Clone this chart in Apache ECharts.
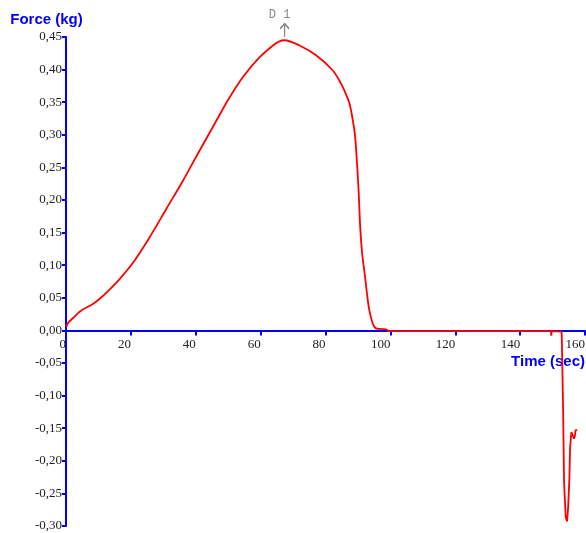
<!DOCTYPE html>
<html>
<head>
<meta charset="utf-8">
<script src="https://cdn.jsdelivr.net/npm/echarts@6/dist/echarts.min.js"></script>
<style>
  html, body { margin: 0; padding: 0; background: #fff; }
  #main { width: 586px; height: 533px; }
</style>
</head>
<body>
<div id="main"></div>
<script>
// readings taken off the trace (seconds, kg)
var timeSec = [0, 0.3, 0.7, 2.2, 4.3, 8.4, 10.5, 13.5, 16.6, 20.7, 25.8, 31.0, 36.1, 41.2,
  46.4, 49.9, 54.6, 59.7, 63.8, 65.6, 67.4, 72.0, 77.1, 82.2, 84.3, 85.8, 87.4, 88.9, 89.4,
  90.2, 90.7, 91.3, 92.2, 92.8, 93.5, 94.6, 95.6, 97.5, 99.0, 99.2, 149.5, 149.6, 149.7,
  152.8, 152.9, 153.2, 153.25, 153.5, 153.55, 154.0, 154.05, 154.5, 154.8, 155.2, 155.4,
  155.8, 156.4, 156.6, 156.9, 157.1, 157.6];
var forceKg = [0.005, 0.008, 0.012, 0.019, 0.029, 0.041, 0.049, 0.063, 0.079, 0.104, 0.143,
  0.187, 0.230, 0.276, 0.322, 0.353, 0.389, 0.419, 0.437, 0.443, 0.445, 0.437, 0.422, 0.399,
  0.383, 0.368, 0.348, 0.307, 0.281, 0.215, 0.158, 0.118, 0.082, 0.056, 0.031, 0.010, 0.003,
  0.002, 0.001, -0.001, -0.001, -0.008, -0.001, -0.002, -0.023, -0.023, -0.123, -0.123,
  -0.233, -0.233, -0.286, -0.293, -0.271, -0.225, -0.181, -0.156, -0.156, -0.166, -0.161,
  -0.153, -0.153];

var marker = { name: 'D 1', time: 67.4, force: 0.445 };

var xMin = 0, xMax = 160, xStep = 20;
var yMin = -0.30, yMax = 0.45, yStep = 0.05;

var blue = '#0000ff';
var gridTop = 37, gridBottom = 7, chartH = 533;
var gridH = chartH - gridTop - gridBottom;
// lift the time axis from the bottom edge up to force = 0
var zeroOffset = -gridH * (0 - yMin) / (yMax - yMin);

var points = timeSec.map(function (t, i) { return [t, forceKg[i]]; });
var split = timeSec.indexOf(99.2);
var curve = points.slice(0, split + 1);   // smooth pull
var tail = points.slice(split);           // flat part and the final snap

var chart = echarts.init(document.getElementById('main'));
var option = {
  animation: false,
  grid: { left: 66, right: 1, top: gridTop, bottom: gridBottom, containLabel: false, outerBoundsMode: 'none' },
  xAxis: {
    type: 'value',
    min: xMin,
    max: xMax,
    interval: xStep,
    position: 'bottom',
    offset: zeroOffset,
    name: 'Time (sec)',
    nameLocation: 'end',
    nameGap: 0,
    nameTextStyle: {
      color: blue, fontFamily: 'Liberation Sans', fontWeight: 'bold', fontSize: 15,
      align: 'right', verticalAlign: 'top', padding: [24, 0, 0, 0]
    },
    axisLine: { onZero: false, lineStyle: { color: blue, width: 2 } },
    axisTick: { show: true, length: 5, lineStyle: { color: blue, width: 2 } },
    axisLabel: {
      color: '#222', fontFamily: 'Liberation Serif', fontSize: 13, align: 'right', margin: 8
    },
    splitLine: { show: false }
  },
  yAxis: {
    type: 'value',
    min: yMin,
    max: yMax,
    interval: yStep,
    name: 'Force (kg)',
    nameLocation: 'end',
    nameGap: 10,
    nameTextStyle: {
      color: blue, fontFamily: 'Liberation Sans', fontWeight: 'bold', fontSize: 15,
      padding: [0, 39, 0, 0]
    },
    axisLine: { show: true, lineStyle: { color: blue, width: 2 } },
    axisTick: { show: true, length: 4, lineStyle: { color: blue, width: 2 } },
    axisLabel: {
      color: '#222', fontFamily: 'Liberation Serif', fontSize: 13, margin: 4,
      formatter: function (v) { return v.toFixed(2).replace('.', ','); }
    },
    splitLine: { show: false }
  },
  series: [{
    type: 'line',
    data: curve,
    symbol: 'none',
    smooth: 0.3,
    lineStyle: { color: '#ff0000', width: 1.8 },
    markPoint: {
      silent: true,
      symbol: 'path://M0,5 L5,0 L10,5 M5,0 L5,13',
      symbolSize: [9, 13],
      symbolOffset: [0, -10],
      itemStyle: { color: 'none', borderColor: '#888', borderWidth: 1.5 },
      label: {
        show: true, position: 'top', distance: 0, offset: [-5, 0],
        formatter: '{b}', color: '#888', fontFamily: 'Liberation Mono', fontSize: 12
      },
      data: [{ name: marker.name, coord: [marker.time, marker.force] }]
    }
  }, {
    type: 'line',
    data: tail,
    symbol: 'none',
    lineStyle: { color: '#ff0000', width: 1.8 }
  }]
};
chart.setOption(option);
window.onresize = chart.resize;
</script>
</body>
</html>
